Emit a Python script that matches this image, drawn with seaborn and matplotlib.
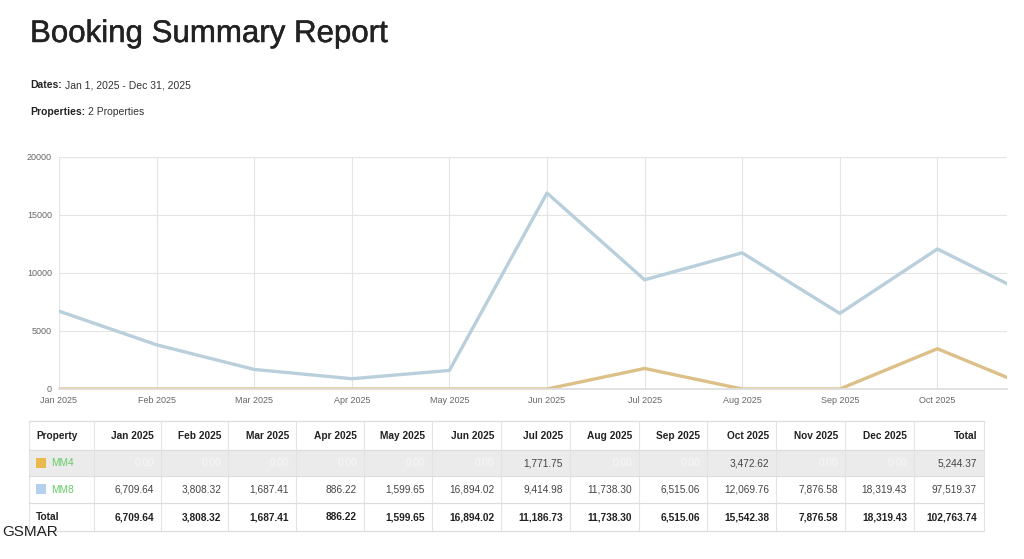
import matplotlib.pyplot as plt
import matplotlib.patches as mpatches
import matplotlib.patheffects as pe
import pandas as pd
import seaborn as sns

months = ["Jan 2025", "Feb 2025", "Mar 2025", "Apr 2025", "May 2025", "Jun 2025",
          "Jul 2025", "Aug 2025", "Sep 2025", "Oct 2025", "Nov 2025", "Dec 2025"]
properties = ["MM4", "MM8"]
mm4_values = [0.00, 0.00, 0.00, 0.00, 0.00, 0.00, 1771.75, 0.00, 0.00, 3472.62, 0.00, 0.00]
mm8_values = [6709.64, 3808.32, 1687.41, 886.22, 1599.65, 16894.02,
              9414.98, 11738.30, 6515.06, 12069.76, 7876.58, 18319.43]
y_ticks = [0, 5000, 10000, 15000, 20000]

line_colors = {"MM4": "#dcc088", "MM8": "#b9cfdc"}
swatch_colors = {"MM4": "#e8b94c", "MM8": "#b3d1ee"}

sns.set_theme(style="whitegrid")
plt.rcParams["font.family"] = ["Liberation Sans", "DejaVu Sans"]

df = pd.DataFrame({
    "idx": list(range(len(months))) * 2,
    "value": mm8_values + mm4_values,
    "property": ["MM8"] * len(months) + ["MM4"] * len(months),
})

fig = plt.figure(figsize=(10.24, 5.59), dpi=100)
W, H = 1024, 559

# header texts
fig.text(30 / W, 1 - 42 / H, "Booking Summary Report", fontsize=22.5,
         color="#222222", va="baseline", ha="left",
         path_effects=[pe.withStroke(linewidth=0.35, foreground="#222222")])


def label_value(y, label, value):
    t = fig.text(30 / W, 1 - y / H, label, fontsize=7.5, fontweight="bold",
                 color="#222222", va="baseline")
    fig.canvas.draw()
    x_end = t.get_window_extent().x1
    fig.text((x_end + 3) / W, 1 - y / H, value, fontsize=7.5,
             color="#333333", va="baseline")


label_value(88, "Dates:", "Jan 1, 2025 - Dec 31, 2025")
label_value(115, "Properties:", "2 Properties")

# line chart
ax = fig.add_axes([59 / W, 1 - 389 / H, (1007 - 59) / W, (389 - 157) / H])
sns.lineplot(data=df, x="idx", y="value", hue="property",
             hue_order=["MM8", "MM4"], palette=line_colors,
             linewidth=2.4, legend=False, ax=ax)
ax.set_yticks(y_ticks)
ax.set_yticklabels([str(v) for v in y_ticks])
ax.set_xticks(range(len(months)))
ax.set_xticklabels(months)
ax.set_xlim(0, (1007 - 59) / 97.6)
ax.set_ylim(0, 20000)
ax.set_xlabel("")
ax.set_ylabel("")
ax.tick_params(axis="both", labelsize=6.5, labelcolor="#666666", length=0, pad=5)
ax.grid(True, color="#e4e4e4", linewidth=0.8)
for s in ["top", "right", "left"]:
    ax.spines[s].set_visible(False)
ax.spines["bottom"].set_color("#dddddd")
ax.set_facecolor("white")

# table
tab = fig.add_axes([0, 0, 1, 1], facecolor="none")
tab.set_xlim(0, W)
tab.set_ylim(H, 0)
tab.axis("off")

col_edges = [29, 94, 161, 228, 296, 364, 432, 501, 570, 639, 707, 776, 845, 914, 984]
row_edges = [421, 450, 476, 503, 531]

tab.add_patch(mpatches.Rectangle((col_edges[0], row_edges[1]),
                                 col_edges[-1] - col_edges[0], row_edges[2] - row_edges[1],
                                 facecolor="#ebebeb", edgecolor="none"))
for x in col_edges:
    tab.plot([x, x], [row_edges[0], row_edges[-1]], color="#e3e3e3", linewidth=0.8)
for y in row_edges:
    tab.plot([col_edges[0], col_edges[-1]], [y, y], color="#dddddd", linewidth=0.9)


def row_base(i):
    return (row_edges[i] + row_edges[i + 1]) / 2 + 3.5


fs = 7.3
headers = ["Property"] + months + ["Total"]
for j, h in enumerate(headers):
    if j == 0:
        tab.text(col_edges[0] + 7, row_base(0), h, fontsize=fs, fontweight="bold",
                 color="#222222", va="baseline", ha="left")
    else:
        tab.text(col_edges[j + 1] - 7, row_base(0), h, fontsize=fs, fontweight="bold",
                 color="#222222", va="baseline", ha="right")

series = {"MM4": mm4_values, "MM8": mm8_values}
for i, name in enumerate(properties):
    r = i + 1
    vals = series[name]
    tab.add_patch(mpatches.Rectangle((col_edges[0] + 7, row_base(r) - 9), 10, 10,
                                     facecolor=swatch_colors[name], edgecolor="none"))
    tab.text(col_edges[0] + 22, row_base(r), name, fontsize=fs, color="#66cc66",
             va="baseline", ha="left")
    for j, v in enumerate(vals + [sum(vals)]):
        color = "#f7f7f7" if v == 0 else "#444444"
        tab.text(col_edges[j + 2] - 7, row_base(r), f"{v:,.2f}", fontsize=fs,
                 color=color, va="baseline", ha="right")

totals = [a + b for a, b in zip(mm4_values, mm8_values)]
tab.text(col_edges[0] + 7, row_base(3), "Total", fontsize=fs, fontweight="bold",
         color="#222222", va="baseline", ha="left")
for j, v in enumerate(totals + [sum(totals)]):
    tab.text(col_edges[j + 2] - 7, row_base(3), f"{v:,.2f}", fontsize=fs,
             fontweight="bold", color="#222222", va="baseline", ha="right")

fig.text(2 / W, 1 - 532 / H, "GSMAR", fontsize=11, color="#222222",
         va="center", ha="left")

fig.savefig("out.png", dpi=100, facecolor="white")
plt.close(fig)
